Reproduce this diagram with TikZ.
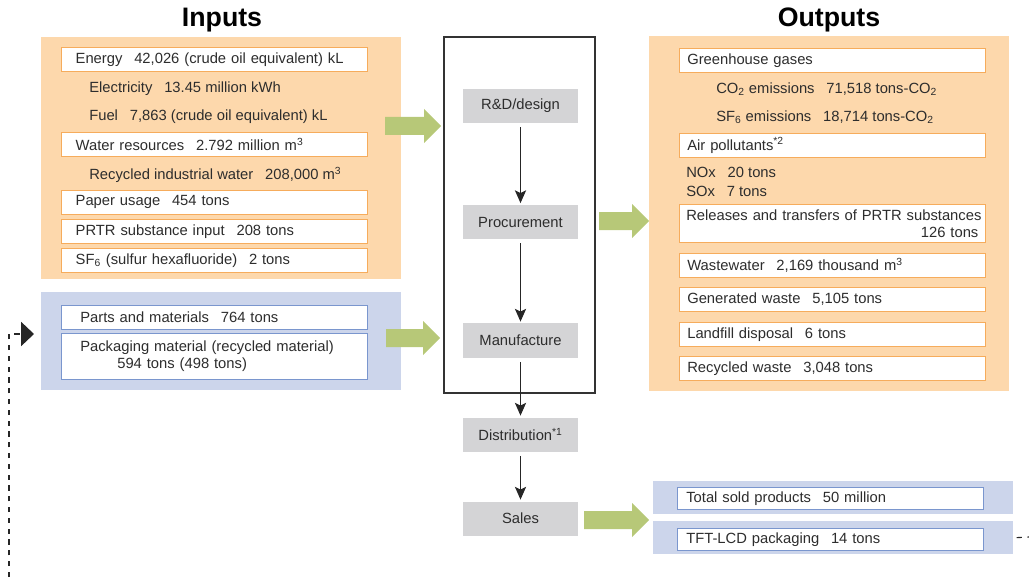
\documentclass[tikz,border=0pt]{standalone}
\usepackage{fontspec}
\setmainfont{Liberation Sans}
\usetikzlibrary{arrows.meta}
\definecolor{inorange}{RGB}{253,216,172}
\definecolor{edgeorange}{RGB}{246,172,92}
\definecolor{inblue}{RGB}{204,213,235}
\definecolor{edgeblue}{RGB}{122,150,206}
\definecolor{stepgray}{RGB}{212,212,214}
\definecolor{arrowgreen}{RGB}{183,200,120}
\definecolor{txtgray}{RGB}{45,45,45}
\newcommand{\valgap}{\hspace{0.8em}}

\begin{document}
\begin{tikzpicture}[x=0.025cm,y=-0.025cm,
            every node/.style={font=\fontsize{10.5}{12}\selectfont,text=txtgray},
            title/.style={font=\fontsize{19}{22}\selectfont\bfseries,text=black},
            bg/.style={anchor=north west,inner sep=0pt,minimum width=90mm},
            item/.style={anchor=west,inner sep=0pt},
            inbox/.style={draw=edgeorange,fill=white,anchor=north west,inner ysep=0pt,
                inner xsep=3.6mm,text width=69.3mm,minimum height=6mm,align=left},
            partbox/.style={inbox,draw=edgeblue,inner xsep=4.75mm,text width=67mm},
            outbox/.style={inbox,inner xsep=2mm,text width=72.5mm},
            soldbox/.style={inbox,draw=edgeblue,inner xsep=2.25mm,text width=72mm,minimum height=5.5mm},
            stepbox/.style={fill=stepgray,minimum width=28.75mm,minimum height=8.5mm,inner sep=0pt},
            flow/.style={draw=black!85,line width=0.9pt,-{Stealth[length=3.2mm,width=2.8mm,inset=0.7mm]},
                shorten <=1mm,shorten >=0.4mm},
            returnline/.style={draw=black!85,line width=0.8pt,dash pattern=on 1.3mm off 1.4mm}]
            \useasboundingbox (0,0) rectangle (1029,577);
            \node[title] (intitle) at (222,20) {Inputs};
            \node[title] (outtitle) at (829,20) {Outputs};
            \node[bg,fill=inorange,minimum height=60.5mm] (inbg) at (41,37) {};
            \node[bg,fill=inblue,minimum height=24.5mm] (inblue) at (41,292) {};
            \node[bg,fill=inorange,minimum height=88.75mm] (outbg) at (649,36) {};
            \node[bg,fill=inblue,minimum height=8.25mm] (soldbar) at (653,481) {};
            \node[bg,fill=inblue,minimum height=8.25mm] (tftbar) at (653,521) {};
            \node[inbox] (energy) at (61,47) {Energy\valgap 42,026 (crude oil equivalent) kL};
            \node[item] (elec) at (89,89) {Electricity\valgap 13.45 million kWh};
            \node[item] (fuel) at (89,117) {Fuel\valgap 7,863 (crude oil equivalent) kL};
            \node[inbox] (water) at (61,132) {Water resources\valgap 2.792 million m\textsuperscript{3}};
            \node[item] (recwater) at (89,175) {Recycled industrial water\valgap 208,000 m\textsuperscript{3}};
            \node[inbox] (paper) at (61,190) {Paper usage\valgap 454 tons};
            \node[inbox] (prtrin) at (61,219) {PRTR substance input\valgap 208 tons};
            \node[inbox] (sfin) at (61,248) {SF\textsubscript{6} (sulfur hexafluoride)\valgap 2 tons};
            \node[partbox] (parts) at (61,305) {Parts and materials\valgap 764 tons};
            \node[partbox,minimum height=11.5mm] (pack) at (61,333)
                {Packaging material (recycled material)\\\hspace*{9.25mm}594 tons (498 tons)};
            \node[outbox] (ghg) at (679,48) {Greenhouse gases};
            \node[item] (co2) at (716,89) {CO\textsubscript{2} emissions\valgap 71,518 tons-CO\textsubscript{2}};
            \node[item] (sf6) at (716,117) {SF\textsubscript{6} emissions\valgap 18,714 tons-CO\textsubscript{2}};
            \node[outbox] (air) at (679,133) {Air pollutants\textsuperscript{*2}};
            \node[item] (nox) at (686,172) {NOx\valgap 20 tons};
            \node[item] (sox) at (686,191) {SOx\valgap 7 tons};
            \node[outbox,minimum height=9.5mm,inner xsep=1.75mm,text width=73mm] (prtrout) at (679,204)
                {\mbox{Releases and transfers of PRTR substances}\\\hspace*{\fill}126 tons};
            \node[outbox] (wastewater) at (679,253) {Wastewater\valgap 2,169 thousand m\textsuperscript{3}};
            \node[outbox] (genwaste) at (679,287) {Generated waste\valgap 5,105 tons};
            \node[outbox] (landfill) at (679,322) {Landfill disposal\valgap 6 tons};
            \node[outbox] (recwaste) at (679,356) {Recycled waste\valgap 3,048 tons};
            \node[soldbox] (sold) at (677,487) {Total sold products\valgap 50 million};
            \node[soldbox] (tft) at (677,528) {TFT-LCD packaging\valgap 14 tons};
            \draw [black!80,line width=1pt] (444,37) rectangle (595,393);
            \node[stepbox] (rd) at (520.5,106) {R\&D/design};
            \node[stepbox] (proc) at (520.5,222) {Procurement};
            \node[stepbox] (manu) at (520.5,340.5) {Manufacture};
            \node[stepbox] (dist) at (520.5,434.5) {Distribution\textsuperscript{*1}};
            \node[stepbox] (sales) at (520.5,518.5) {Sales};
            \draw[flow] (rd) -- (proc);
            \draw[flow] (proc) -- (manu);
            \draw[flow] (manu) -- (dist);
            \draw[flow] (dist) -- (sales);
            \foreach \ax/\ay/\al in {385/126/56, 386/338/54, 599/221/50, 584/520/65}
                \fill[arrowgreen] (\ax,\ay-9) -- (\ax+\al-17,\ay-9) -- (\ax+\al-17,\ay-17) -- (\ax+\al,\ay)
                    -- (\ax+\al-17,\ay+17) -- (\ax+\al-17,\ay+9) -- (\ax,\ay+9) -- cycle;
            \coordinate (loopin) at (9,577);
            \coordinate (loopend) at (34,334);
            \coordinate (loopout) at (1029,537);
            \draw[returnline,-{Triangle[length=3.2mm,width=6mm]}] (loopin) |- (loopend);
            \draw[returnline,shorten <=0.75mm] (tftbar.east) -- (loopout);
        \end{tikzpicture}
\end{document}
